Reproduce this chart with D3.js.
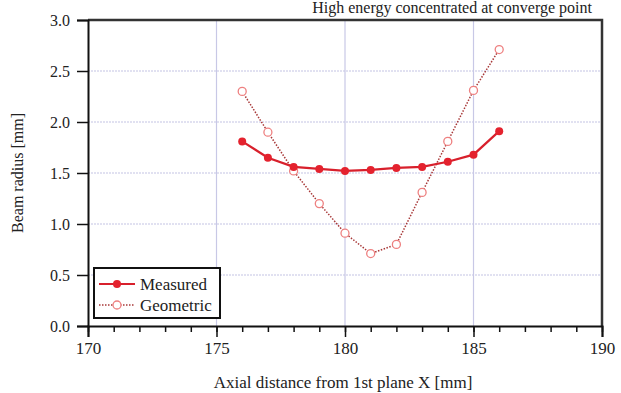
<!DOCTYPE html>
<html>
<head>
<meta charset="utf-8">
<script src="https://cdn.jsdelivr.net/npm/d3@7"></script>
<style>
	body { margin: 0; background: #fff; }
	svg { display: block; }
	text { font-family: "Liberation Serif", "DejaVu Serif", serif; fill: #222; }
</style>
</head>
<body>
<svg width="621" height="393"></svg>
<script>
// data
let xs = [176, 177, 178, 179, 180, 181, 182, 183, 184, 185, 186]
let measured = [1.81, 1.65, 1.56, 1.54, 1.52, 1.53, 1.55, 1.56, 1.61, 1.68, 1.91]
let geometric = [2.30, 1.90, 1.52, 1.20, 0.91, 0.71, 0.80, 1.31, 1.81, 2.31, 2.71]
let xTicks = [170, 175, 180, 185, 190]
let yTicks = [0, 0.5, 1.0, 1.5, 2.0, 2.5, 3.0]
let names = ['Measured', 'Geometric']

let svg = d3.select('svg')
let serif = '"Liberation Serif", "DejaVu Serif", serif'

let x0 = 88, x1 = 602, y0 = 20, y1 = 326

let x = d3.scaleLinear().domain([170, 190]).range([x0, x1])
let y = d3.scaleLinear().domain([0, 3]).range([y1, y0])

// caption above the chart (cut off in the source scan)
svg.append('text')
	.attr('x', 592).attr('y', 13)
	.attr('text-anchor', 'end')
	.style('font-size', '16px')
	.text('High energy concentrated at converge point')

// grid
svg.append('g').selectAll('line')
	.data(yTicks.filter(d => d > 0 && d < 3))
	.join('line')
	.attr('x1', x0).attr('x2', x1)
	.attr('y1', d => y(d)).attr('y2', d => y(d))
	.attr('stroke', '#c4c4e4').attr('stroke-width', 1.2)
	.attr('stroke-dasharray', '2,1')
svg.append('g').selectAll('line')
	.data(xTicks.filter(d => d > 170 && d < 190))
	.join('line')
	.attr('x1', d => x(d)).attr('x2', d => x(d))
	.attr('y1', y0).attr('y2', y1)
	.attr('stroke', '#c8c8e6').attr('stroke-width', 1.2)

// frame top / right
svg.append('path')
	.attr('d', `M${x0},${y0}H${x1}V${y1}`)
	.attr('fill', 'none').attr('stroke', '#333').attr('stroke-width', 2.5)

// minor x ticks
let xMinor = d3.axisBottom(x).ticks(20).tickSize(6).tickFormat('')
svg.append('g')
	.attr('transform', `translate(0,${y1})`)
	.call(xMinor)
	.call(g => g.select('.domain').remove())
	.call(g => g.selectAll('line').attr('stroke', '#111').attr('stroke-width', 1.5))

let xAxis = d3.axisBottom(x).tickValues(xTicks).tickSize(11).tickPadding(5).tickFormat(d3.format('d'))
svg.append('g')
	.attr('transform', `translate(0,${y1})`)
	.attr('font-family', serif)
	.call(xAxis)
	.call(g => g.select('.domain').attr('stroke', '#111').attr('stroke-width', 2))
	.call(g => g.selectAll('line').attr('stroke', '#111').attr('stroke-width', 1.5))
	.call(g => g.selectAll('text').style('font-size', '17px').style('font-family', serif).attr('fill', '#444'))

let yAxis = d3.axisLeft(y).tickValues(yTicks).tickSize(11).tickPadding(7).tickFormat(d3.format('.1f'))
svg.append('g')
	.attr('transform', `translate(${x0},0)`)
	.attr('font-family', serif)
	.call(yAxis)
	.call(g => g.select('.domain').attr('stroke', '#111').attr('stroke-width', 2))
	.call(g => g.selectAll('line').attr('stroke', '#111').attr('stroke-width', 1.5))
	.call(g => g.selectAll('text').style('font-size', '16px').style('font-family', serif).attr('fill', '#444'))

// axis titles
svg.append('text')
	.attr('x', 343).attr('y', 388)
	.attr('text-anchor', 'middle')
	.style('font-size', '17px')
	.text('Axial distance from 1st plane X [mm]')
svg.append('text')
	.attr('transform', `translate(23,173) rotate(-90)`)
	.attr('text-anchor', 'middle')
	.style('font-size', '16px')
	.text('Beam radius [mm]')

let line = d3.line().x(d => x(d[0])).y(d => y(d[1]))

// geometric
let geo = xs.map((v, i) => [v, geometric[i]])
svg.append('path')
	.attr('d', line(geo))
	.attr('fill', 'none').attr('stroke', '#a83838').attr('stroke-width', 1.5)
	.attr('stroke-dasharray', '1.5,1.5')
svg.append('g').selectAll('circle')
	.data(geo).join('circle')
	.attr('cx', d => x(d[0])).attr('cy', d => y(d[1])).attr('r', 4)
	.attr('fill', '#fff').attr('stroke', '#ee8080').attr('stroke-width', 1.3)

// measured
let mea = xs.map((v, i) => [v, measured[i]])
svg.append('path')
	.attr('d', line(mea))
	.attr('fill', 'none').attr('stroke', '#d8202c').attr('stroke-width', 2.2)
svg.append('g').selectAll('circle')
	.data(mea).join('circle')
	.attr('cx', d => x(d[0])).attr('cy', d => y(d[1])).attr('r', 4)
	.attr('fill', '#e4222e')

// legend
let lg = svg.append('g').attr('transform', 'translate(94,268)')
lg.append('rect')
	.attr('width', 126).attr('height', 50)
	.attr('fill', '#fff').attr('stroke', '#111').attr('stroke-width', 2)
names.forEach((n, i) => {
	let ly = 16 + i * 21
	let l = lg.append('line')
		.attr('x1', 5).attr('x2', 41).attr('y1', ly).attr('y2', ly)
	let c = lg.append('circle').attr('cx', 23).attr('cy', ly).attr('r', 4)
	if (i == 0) {
		l.attr('stroke', '#d8202c').attr('stroke-width', 2.2)
		c.attr('fill', '#e4222e')
	} else {
		l.attr('stroke', '#a83838').attr('stroke-width', 1.5).attr('stroke-dasharray', '1.5,1.5')
		c.attr('fill', '#fff').attr('stroke', '#ee8080').attr('stroke-width', 1.3)
	}
	lg.append('text')
		.attr('x', 46).attr('y', ly + 6)
		.style('font-size', '17px')
		.text(n)
})
</script>
</body>
</html>
